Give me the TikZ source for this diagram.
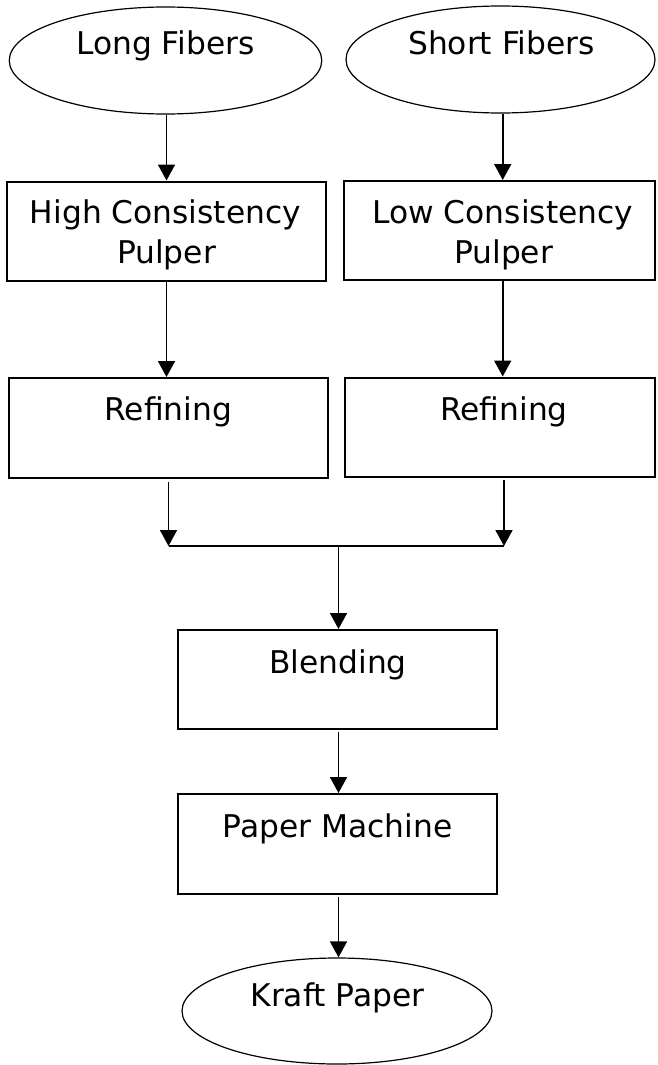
\documentclass[tikz,border=0pt]{standalone}
\usepackage{fontspec}
\setmainfont{DejaVu Sans}
\usetikzlibrary{shapes.geometric,arrows.meta}
\begin{document}
\begin{tikzpicture}[x=1pt,y=-1pt,
  ell/.style={draw,ellipse,line width=1.2pt,inner sep=0pt},
  procbox/.style={draw,rectangle,line width=2pt,inner sep=0pt},
  txt/.style={anchor=base,inner sep=0pt,font=\fontsize{31.3}{39}\selectfont},
  arr/.style={line width=1.8pt,-{Triangle[width=17pt,length=16pt]}},
  ln/.style={line width=1.6pt}]
\useasboundingbox (0,0) rectangle (657,1065);
% shapes
\node[ell,minimum width=312.5pt,minimum height=107pt] (LF) at (165.5,60.5) {};
\node[ell,minimum width=309pt,minimum height=107pt] (SF) at (500.5,59.5) {};
\node[procbox,minimum width=319pt,minimum height=99pt] (HC) at (166.5,231) {};
\node[procbox,minimum width=311pt,minimum height=99pt] (LC) at (499.5,230.5) {};
\node[procbox,minimum width=319pt,minimum height=100pt] (RL) at (168,428) {};
\node[procbox,minimum width=310pt,minimum height=99pt] (RR) at (500,427) {};
\node[procbox,minimum width=319pt,minimum height=99pt] (BL) at (337.5,679.5) {};
\node[procbox,minimum width=319pt,minimum height=100pt] (PM) at (337.5,844) {};
\node[ell,minimum width=310pt,minimum height=106pt] (KP) at (337,1011) {};
% texts
\node[txt] (tLF) at (165.5,55) {Long Fibers};
\node[txt] (tSF) at (501.5,55) {Short Fibers};
\node[txt] (tHC1) at (165.5,223.5) {High Consistency};
\node[txt] (tHC2) at (166.5,263) {Pulper};
\node[txt] (tLC1) at (502.7,223.5) {Low Consistency};
\node[txt] (tLC2) at (503.6,263) {Pulper};
\node[txt] (tRL) at (168.2,420.7) {Refining};
\node[txt] (tRR) at (504,420.7) {Refining};
\node[txt] (tBL) at (338,673.3) {Blending};
\node[txt] (tPM) at (337.8,837) {Paper Machine};
\node[txt] (tKP) at (337.5,1006.7) {Kraft Paper};
% junction and column coordinates
\coordinate (LCn) at (502.7,0);
\coordinate (J1) at (168.5,546);
\coordinate (J2) at (504,546);
\coordinate (JM) at (338.5,546);
% connectors
\draw[arr] (HC.north |- LF.south) -- (HC.north);
\draw[arr] (SF.south -| LCn) -- (LC.north -| LCn);
\draw[arr] (HC.south) -- (RL.north -| HC.south);
\draw[arr] (LC.south -| LCn) -- (RR.north -| LCn);
\draw[arr] ([yshift=-2.5pt]RL.south -| J1) -- (J1);
\draw[arr] ([yshift=-2.5pt]RR.south -| J2) -- (J2);
\draw[ln] (J1) -- (J2);
\draw[arr] (JM) -- (BL.north -| JM);
\draw[arr] ([yshift=-1.5pt]BL.south -| JM) -- (PM.north -| JM);
\draw[arr] ([yshift=-1.5pt]PM.south -| JM) -- (KP.north -| JM);
\end{tikzpicture}
\end{document}
